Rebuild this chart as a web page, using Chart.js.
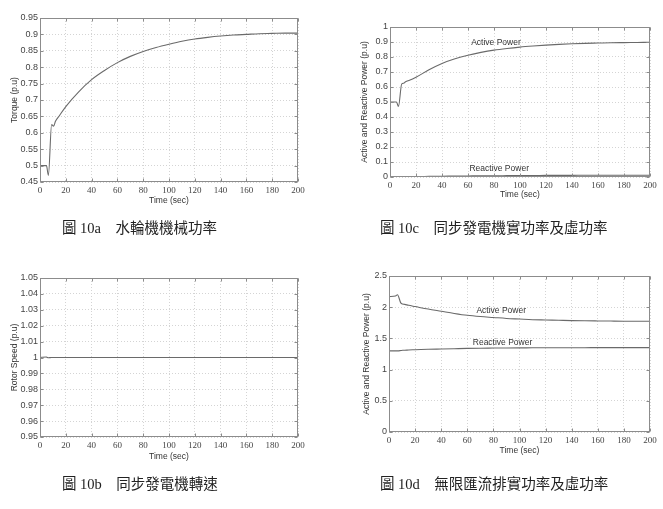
<!DOCTYPE html>
<html><head><meta charset="utf-8">
<script src="https://cdn.jsdelivr.net/npm/chart.js@4"></script>
<style>
html,body{margin:0;padding:0;background:#fff;}
#wrap{position:relative;width:663px;height:509px;overflow:hidden;background:#fff;}
canvas{position:absolute;left:0;top:0;}
.cap{position:absolute;font-family:"Liberation Serif","Noto Sans CJK TC",serif;font-size:14.5px;color:#222;white-space:nowrap;line-height:1;}
</style></head><body>
<div id="wrap">
<canvas id="c1" width="663" height="509"></canvas>
<canvas id="c2" width="663" height="509"></canvas>
<canvas id="c3" width="663" height="509"></canvas>
<canvas id="c4" width="663" height="509"></canvas>
<div class="cap" style="left:62px;top:221px">圖 10a　水輪機機械功率</div>
<div class="cap" style="left:380px;top:221px">圖 10c　同步發電機實功率及虛功率</div>
<div class="cap" style="left:62px;top:477px">圖 10b　同步發電機轉速</div>
<div class="cap" style="left:380px;top:477px">圖 10d　無限匯流排實功率及虛功率</div>
</div>
<script>
// ---- data ----
const time = [0, 5, 6.5, 9, 10.5, 12, 15, 20, 30, 40, 50, 60, 70, 80, 90, 100, 110, 120, 130, 140, 150, 160, 170, 180, 190, 200];
const torque = [0.5, 0.5, 0.47, 0.625, 0.62, 0.635, 0.652, 0.68, 0.725, 0.762, 0.79, 0.814, 0.833, 0.848, 0.86, 0.87, 0.879, 0.886, 0.891, 0.895, 0.898, 0.9, 0.902, 0.903, 0.904, 0.904];
const genActive = [0.5, 0.5, 0.47, 0.62, 0.625, 0.635, 0.645, 0.665, 0.715, 0.757, 0.788, 0.812, 0.831, 0.846, 0.857, 0.866, 0.873, 0.879, 0.884, 0.888, 0.891, 0.893, 0.895, 0.896, 0.897, 0.898];
const genReactive = [0, 0, 0, 0.002, 0.002, 0.002, 0.003, 0.003, 0.004, 0.005, 0.006, 0.007, 0.008, 0.008, 0.009, 0.01, 0.01, 0.011, 0.011, 0.011, 0.012, 0.012, 0.012, 0.012, 0.012, 0.012];
const rotorSpeed = [1, 1.0003, 0.9998, 1, 1, 1, 1, 1, 1, 1, 1, 1, 1, 1, 1, 1, 1, 1, 1, 1, 1, 1, 1, 1, 1, 1];
const busActive = [2.17, 2.18, 2.2, 2.07, 2.05, 2.045, 2.03, 2.01, 1.97, 1.935, 1.9, 1.87, 1.85, 1.835, 1.82, 1.81, 1.8, 1.795, 1.79, 1.785, 1.782, 1.78, 1.778, 1.776, 1.775, 1.775];
const busReactive = [1.3, 1.3, 1.3, 1.305, 1.31, 1.31, 1.315, 1.318, 1.325, 1.33, 1.335, 1.34, 1.343, 1.345, 1.347, 1.348, 1.349, 1.35, 1.35, 1.351, 1.351, 1.352, 1.352, 1.352, 1.352, 1.352];

const xTicks = [0, 20, 40, 60, 80, 100, 120, 140, 160, 180, 200];
const torqueTicks = [0.45, 0.5, 0.55, 0.6, 0.65, 0.7, 0.75, 0.8, 0.85, 0.9, 0.95];
const genPowerTicks = [0, 0.1, 0.2, 0.3, 0.4, 0.5, 0.6, 0.7, 0.8, 0.9, 1];
const speedTicks = [0.95, 0.96, 0.97, 0.98, 0.99, 1, 1.01, 1.02, 1.03, 1.04, 1.05];
const busPowerTicks = [0, 0.5, 1, 1.5, 2, 2.5];

// ---- drawing ----
const W = 663, H = 509;
const lineColor = '#6a6a6a';
const pts = arr => time.map((t, i) => ({x: t, y: arr[i]}));

const boxPlugin = {
  id: 'box',
  afterDraw(chart) {
    const {ctx, chartArea: a, scales: {x, y}} = chart;
    const l = Math.round(a.left) + 0.5, r = Math.round(a.right) - 0.5;
    const t = Math.round(a.top) + 0.5, b = Math.round(a.bottom) - 0.5;
    ctx.save();
    ctx.strokeStyle = '#8c8c8c';
    ctx.lineWidth = 1;
    ctx.strokeRect(l, t, r - l, b - t);
    ctx.beginPath();
    x.ticks.forEach(tk => {
      const px = Math.round(x.getPixelForValue(tk.value)) + 0.5;
      ctx.moveTo(px, b); ctx.lineTo(px, b - 3);
      ctx.moveTo(px, t); ctx.lineTo(px, t + 3);
    });
    y.ticks.forEach(tk => {
      const py = Math.round(y.getPixelForValue(tk.value)) + 0.5;
      ctx.moveTo(l, py); ctx.lineTo(l + 3, py);
      ctx.moveTo(r, py); ctx.lineTo(r - 3, py);
    });
    ctx.stroke();
    const labels = chart.options.plugins.curveLabels || [];
    ctx.fillStyle = '#333';
    ctx.font = '8.5px "Liberation Sans", Arial, sans-serif';
    ctx.textAlign = 'center';
    ctx.textBaseline = 'middle';
    labels.forEach(lb => ctx.fillText(lb.text, x.getPixelForValue(lb.x), y.getPixelForValue(lb.y)));
    ctx.restore();
  }
};

function makePlot(id, area, yw, xh, yTicks, yTitle, series, labels) {
  new Chart(document.getElementById(id), {
    type: 'line',
    data: {
      datasets: series.map(s => ({
        data: pts(s), borderColor: lineColor, borderWidth: 1.1, pointRadius: 0,
        cubicInterpolationMode: 'monotone', fill: false
      }))
    },
    options: {
      responsive: false, animation: false, devicePixelRatio: 1,
      layout: {padding: {left: area.l - yw, top: area.t, right: W - area.r, bottom: H - area.b - xh}},
      plugins: {legend: {display: false}, tooltip: {enabled: false}, curveLabels: labels},
      scales: {
        x: {
          type: 'linear', min: xTicks[0], max: xTicks[xTicks.length - 1],
          afterBuildTicks: s => { s.ticks = xTicks.map(v => ({value: v})); },
          afterFit: s => { s.height = xh; },
          ticks: {font: {family: '"Liberation Serif", serif', size: 9}, color: '#444', padding: 3, maxRotation: 0, autoSkip: false,
                  callback: v => String(v)},
          grid: {color: '#d4d4d4', drawTicks: false, lineWidth: 1},
          border: {display: false, dash: [1, 2]},
          title: {display: true, text: 'Time (sec)', font: {family: '"Liberation Sans", Arial, sans-serif', size: 8.5}, color: '#333', padding: 0}
        },
        y: {
          type: 'linear', min: yTicks[0], max: yTicks[yTicks.length - 1],
          afterBuildTicks: s => { s.ticks = yTicks.map(v => ({value: v})); },
          afterFit: s => { s.width = yw; },
          ticks: {font: {family: '"Liberation Sans", Arial, sans-serif', size: 9}, color: '#444', padding: 2, autoSkip: false,
                  callback: v => String(+v.toFixed(3))},
          grid: {color: '#d4d4d4', drawTicks: false, lineWidth: 1},
          border: {display: false, dash: [1, 2]},
          title: {display: true, text: yTitle, font: {family: '"Liberation Sans", Arial, sans-serif', size: 8.5}, color: '#333', padding: 0}
        }
      }
    },
    plugins: [boxPlugin]
  });
}

makePlot('c1', {l: 40, t: 18, r: 298, b: 182}, 30, 24, torqueTicks, 'Torque (p.u)', [torque], []);
makePlot('c2', {l: 390, t: 27, r: 650, b: 177}, 30, 23, genPowerTicks, 'Active and Reactive Power (p.u)', [genActive, genReactive],
  [{text: 'Active Power', x: 81.5, y: 0.893}, {text: 'Reactive Power', x: 84, y: 0.053}]);
makePlot('c3', {l: 40, t: 278, r: 298, b: 437}, 30, 25, speedTicks, 'Rotor Speed (p.u)', [rotorSpeed], []);
makePlot('c4', {l: 389, t: 276, r: 650, b: 432}, 27, 24, busPowerTicks, 'Active and Reactive Power (p.u)', [busActive, busReactive],
  [{text: 'Active Power', x: 86, y: 1.94}, {text: 'Reactive Power', x: 87, y: 1.43}]);
</script>
</body></html>
